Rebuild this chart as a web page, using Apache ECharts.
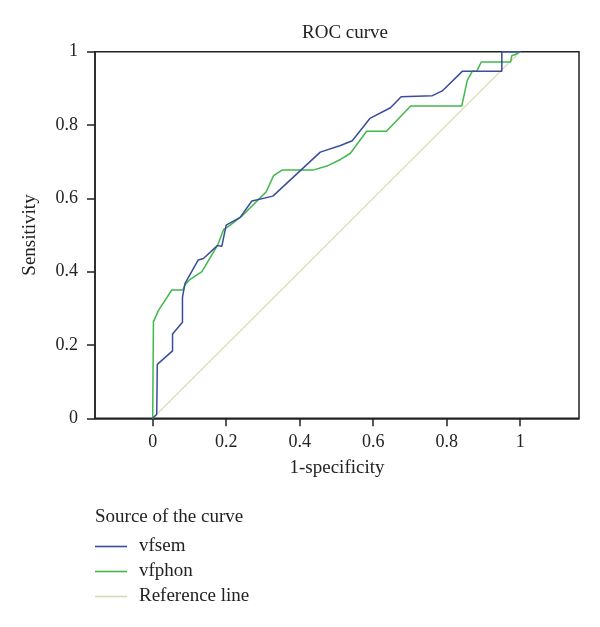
<!DOCTYPE html>
<html>
<head>
<meta charset="utf-8">
<script src="https://cdn.jsdelivr.net/npm/echarts@6/dist/echarts.min.js"></script>
<style>html,body{margin:0;padding:0;background:#fff}#c{width:600px;height:627px}</style>
</head>
<body>
<div id="c"></div>
<script>
var titleText = 'ROC curve';
var xAxisName = '1-specificity';
var yAxisName = 'Sensitivity';
var legendTitle = 'Source of the curve';
var seriesNames = ['vfsem', 'vfphon', 'Reference line'];
var tickValues = [0, 0.2, 0.4, 0.6, 0.8, 1];

var vfsemX = [0, 0.011, 0.0125, 0.054, 0.054, 0.081, 0.081, 0.088, 0.124, 0.138, 0.176, 0.188, 0.2, 0.238, 0.265, 0.27, 0.327, 0.456, 0.511, 0.543, 0.591, 0.647, 0.676, 0.761, 0.788, 0.843, 0.95, 0.95, 1];
var vfsemY = [0, 0.011, 0.147, 0.184, 0.23, 0.262, 0.33, 0.368, 0.432, 0.436, 0.471, 0.469, 0.527, 0.548, 0.586, 0.593, 0.606, 0.726, 0.744, 0.757, 0.818, 0.847, 0.877, 0.88, 0.893, 0.947, 0.947, 1, 1];

var vfphonX = [0, 0.002, 0.015, 0.052, 0.082, 0.088, 0.102, 0.134, 0.177, 0.193, 0.211, 0.243, 0.309, 0.329, 0.352, 0.436, 0.474, 0.511, 0.538, 0.582, 0.636, 0.702, 0.841, 0.856, 0.87, 0.882, 0.894, 0.974, 0.977, 0.988, 1];
var vfphonY = [0, 0.263, 0.293, 0.35, 0.35, 0.364, 0.379, 0.4, 0.473, 0.515, 0.527, 0.552, 0.618, 0.662, 0.677, 0.677, 0.688, 0.706, 0.723, 0.783, 0.783, 0.852, 0.852, 0.922, 0.947, 0.947, 0.972, 0.972, 0.989, 0.993, 1];

var refX = [0, 1];
var refY = [0, 1];

function pairs(xs, ys) { return xs.map(function (x, i) { return [x, ys[i]]; }); }

var font = 'Liberation Serif';
var chart = echarts.init(document.getElementById('c'), null, { renderer: 'canvas' });
chart.setOption({
  animation: false,
  backgroundColor: '#fff',
  title: {
    text: titleText, left: 340, top: 19, textAlign: 'center',
    textStyle: { fontFamily: font, fontSize: 19, fontWeight: 'normal', color: '#222' }
  },
  grid: { left: 95, right: 21, top: 51.7, bottom: 208.7, show: true, borderColor: '#222', borderWidth: 1.5, backgroundColor: 'transparent' },
  xAxis: {
    type: 'value', min: -0.157, max: 1.16,
    name: xAxisName, nameLocation: 'middle', nameGap: 40,
    nameTextStyle: { fontFamily: font, fontSize: 19, color: '#222' },
    axisLine: { show: true, onZero: false, lineStyle: { color: '#222', width: 1.5 } },
    axisTick: { show: true, length: 8, customValues: tickValues, lineStyle: { color: '#222', width: 1.5 } },
    axisLabel: { customValues: tickValues, margin: 15, fontFamily: font, fontSize: 18, color: '#222',
      formatter: function (v) { return String(Math.round(v * 10) / 10); } },
    splitLine: { show: false }
  },
  yAxis: {
    type: 'value', min: 0, max: 1,
    name: yAxisName, nameLocation: 'middle', nameGap: 55, nameRotate: 90,
    nameTextStyle: { fontFamily: font, fontSize: 19, color: '#222' },
    axisLine: { show: true, onZero: false, lineStyle: { color: '#222', width: 1.5 } },
    axisTick: { show: true, length: 8, customValues: tickValues, lineStyle: { color: '#222', width: 1.5 } },
    axisLabel: { customValues: tickValues, margin: 17, fontFamily: font, fontSize: 18, color: '#222',
      formatter: function (v) { return String(Math.round(v * 10) / 10); } },
    splitLine: { show: false }
  },
  legend: {
    orient: 'vertical', left: 90, top: 532, itemWidth: 32, itemHeight: 1.6, itemGap: 6,
    icon: 'rect',
    textStyle: { fontFamily: font, fontSize: 19, color: '#222', padding: [0, 0, 0, 7] },
    data: seriesNames
  },
  graphic: [{
    type: 'text', left: 95, top: 508,
    style: { text: legendTitle, font: '19px "Liberation Serif"', fill: '#222' }
  }],
  series: [
    { name: seriesNames[2], type: 'line', data: pairs(refX, refY), showSymbol: false, z: 1,
      lineStyle: { color: '#d9d8b4', width: 1.2 }, itemStyle: { color: '#d9d8b4' } },
    { name: seriesNames[1], type: 'line', data: pairs(vfphonX, vfphonY), showSymbol: false, z: 2,
      lineStyle: { color: '#40b84c', width: 1.5 }, itemStyle: { color: '#40b84c' } },
    { name: seriesNames[0], type: 'line', data: pairs(vfsemX, vfsemY), showSymbol: false, z: 3,
      lineStyle: { color: '#3a4c9c', width: 1.5 }, itemStyle: { color: '#3a4c9c' } }
  ]
});
</script>
</body>
</html>
